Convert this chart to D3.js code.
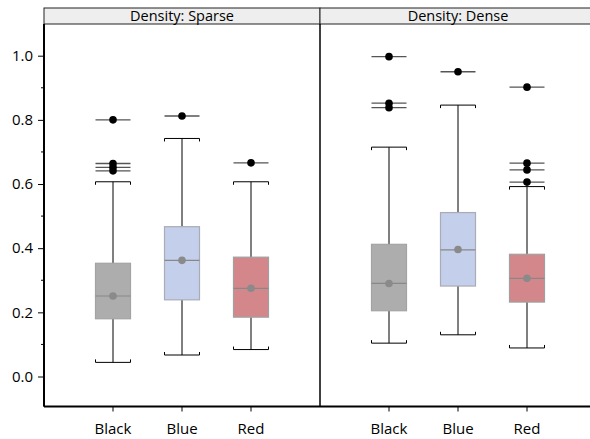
<!DOCTYPE html>
<html>
<head>
<meta charset="utf-8">
<script src="https://cdnjs.cloudflare.com/ajax/libs/d3/7.8.5/d3.min.js"></script>
<style>
  body { margin: 0; background: #fff; }
  text { font-family: "Open Sans", "Noto Sans", sans-serif; }
</style>
</head>
<body>
<div id="chart"></div>
<script>
// box plots of two density panels

var panels = ["Density: Sparse", "Density: Dense"];
var categories = ["Black", "Blue", "Red"];
var yTicks = [0.0, 0.2, 0.4, 0.6, 0.8, 1.0];

// [panel][category] summary stats
var lowerWhisker = [[0.044, 0.067, 0.084], [0.104, 0.130, 0.089]];
var q1           = [[0.180, 0.239, 0.185], [0.205, 0.282, 0.232]];
var median       = [[0.251, 0.362, 0.275], [0.290, 0.395, 0.306]];
var mean         = [[0.251, 0.362, 0.275], [0.290, 0.396, 0.306]];
var q3           = [[0.353, 0.467, 0.372], [0.412, 0.511, 0.381]];
var upperWhisker = [[0.607, 0.742, 0.607], [0.715, 0.846, 0.592]];
var outliers = [
  [[0.800, 0.664, 0.652, 0.641], [0.812], [0.666]],
  [[0.997, 0.852, 0.838], [0.950], [0.902, 0.665, 0.644, 0.606]]
];

var boxFill   = {Black: "#adadad", Blue: "#c3cfeb", Red: "#d4878b"};
var boxStroke = {Black: "#a3a3a3", Blue: "#a9acb5", Red: "#a0a0a0"};

var width = 590,
    height = 439;

var left = 44, topY = 8, headH = 16, bottom = 406.5, panelW = 276;

var svg = d3.select("#chart").append("svg")
    .attr("width", width)
    .attr("height", height);

var y = d3.scaleLinear()
    .domain([-0.0935, 1.0])
    .range([bottom, 55.7]);

var x = d3.scaleBand()
    .domain(categories)
    .range([0, panelW])
    .paddingOuter(0.5)
    .paddingInner(0);

var boxW = 35;

panels.forEach(function(title, p) {
  var x0 = left + p * panelW;
  var g = svg.append("g").attr("transform", "translate(" + x0 + ",0)");

  // header strip
  g.append("rect")
    .attr("x", 0).attr("y", topY)
    .attr("width", panelW).attr("height", headH)
    .attr("fill", "#eeeeee")
    .attr("stroke", "#222").attr("stroke-width", 1);
  g.append("text")
    .attr("x", panelW / 2).attr("y", topY + 13)
    .attr("text-anchor", "middle")
    .attr("font-size", 14.5)
    .text(title);

  // panel left border
  g.append("line")
    .attr("x1", 0).attr("x2", 0)
    .attr("y1", topY + headH).attr("y2", bottom)
    .attr("stroke", "#000").attr("stroke-width", 1.5);

  // x axis
  var xAxis = d3.axisBottom(x).tickSize(5).tickPadding(12);
  var ax = g.append("g")
    .attr("transform", "translate(0," + bottom + ")")
    .call(xAxis);
  ax.select(".domain").attr("stroke-width", 2).attr("d", "M0,0H" + panelW);
  ax.selectAll("text").attr("font-size", 15).attr("fill", "#000");

  categories.forEach(function(c, i) {
    var cx = x(c) + x.bandwidth() / 2;
    var hw = boxW / 2;
    var b = g.append("g");

    // whiskers
    b.append("line")
      .attr("x1", cx).attr("x2", cx)
      .attr("y1", y(upperWhisker[p][i])).attr("y2", y(q3[p][i]))
      .attr("stroke", "#000");
    b.append("line")
      .attr("x1", cx).attr("x2", cx)
      .attr("y1", y(q1[p][i])).attr("y2", y(lowerWhisker[p][i]))
      .attr("stroke", "#000");
    var uy = y(upperWhisker[p][i]), ly = y(lowerWhisker[p][i]);
    b.append("path")
      .attr("d", "M" + (cx - hw) + "," + (uy + 3) + "V" + uy + "H" + (cx + hw) + "V" + (uy + 3))
      .attr("fill", "none").attr("stroke", "#000");
    b.append("path")
      .attr("d", "M" + (cx - hw) + "," + (ly - 3) + "V" + ly + "H" + (cx + hw) + "V" + (ly - 3))
      .attr("fill", "none").attr("stroke", "#000");

    // box
    b.append("rect")
      .attr("x", cx - hw).attr("y", y(q3[p][i]))
      .attr("width", boxW).attr("height", y(q1[p][i]) - y(q3[p][i]))
      .attr("fill", boxFill[c])
      .attr("stroke", boxStroke[c]).attr("stroke-width", 1.2);
    b.append("line")
      .attr("x1", cx - hw).attr("x2", cx + hw)
      .attr("y1", y(median[p][i])).attr("y2", y(median[p][i]))
      .attr("stroke", "#888").attr("stroke-width", 1.2);
    b.append("circle")
      .attr("cx", cx).attr("cy", y(mean[p][i]))
      .attr("r", 3.8).attr("fill", "#8a8a8a");

    // outliers
    b.selectAll(".out")
      .data(outliers[p][i])
      .enter().append("line")
      .attr("x1", cx - hw).attr("x2", cx + hw)
      .attr("y1", function(d) { return y(d); })
      .attr("y2", function(d) { return y(d); })
      .attr("stroke", "#555").attr("stroke-width", 1.3);
    b.selectAll(".dot")
      .data(outliers[p][i])
      .enter().append("circle")
      .attr("cx", cx)
      .attr("cy", function(d) { return y(d); })
      .attr("r", 3.8)
      .attr("fill", "#000");
  });
});

// y axis
var minor = d3.range(-0.0, 1.05, 0.1).filter(function(v) { return Math.round(v * 10) % 2 === 1; });
var yAxis = d3.axisLeft(y)
  .tickValues(yTicks)
  .tickFormat(d3.format(".1f"))
  .tickSize(6)
  .tickPadding(5);
var ay = svg.append("g")
  .attr("transform", "translate(" + left + ",0)")
  .call(yAxis);
ay.select(".domain").attr("stroke-width", 2).attr("d", "M0," + (topY + headH) + "V" + bottom);
ay.selectAll("text").attr("font-size", 15).attr("fill", "#000");
ay.selectAll(".minor")
  .data(minor)
  .enter().append("line")
  .attr("class", "minor")
  .attr("x1", -3).attr("x2", 0)
  .attr("y1", function(d) { return y(d); })
  .attr("y2", function(d) { return y(d); })
  .attr("stroke", "#000");
</script>
</body>
</html>
